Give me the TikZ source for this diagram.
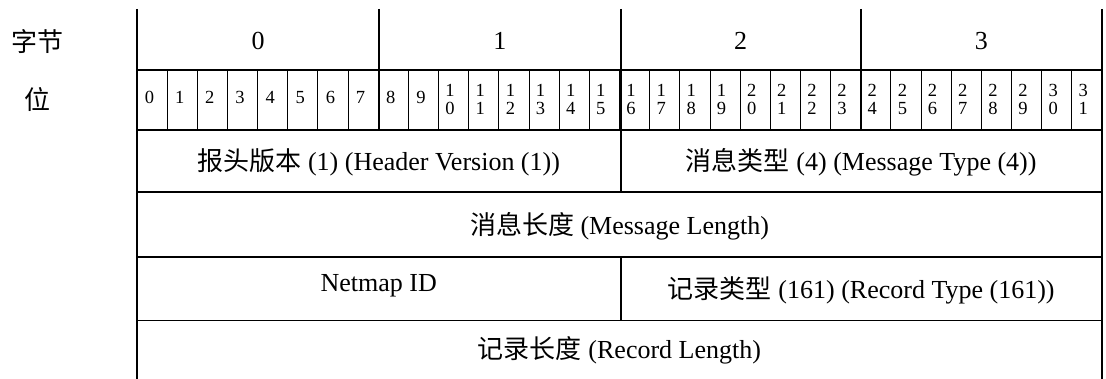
\documentclass[tikz,border=0pt]{standalone}
\usepackage{fontspec}
\setmainfont{Liberation Serif}
\newfontfamily\cjk{Noto Sans CJK SC}
\begin{document}
\begin{tikzpicture}[x=1pt,y=-1pt,
  thickl/.style={line width=2pt},
  thinl/.style={line width=0.9pt},
  lbl/.style={inner sep=0pt,font=\fontsize{26}{30}\selectfont},
  bitd/.style={inner sep=0pt,anchor=base,font=\fontsize{18.5}{19}\selectfont}]
\useasboundingbox (0,0) rectangle (1106,379);
% bit separators
\foreach \i in {1,...,31}{
  \pgfmathsetmacro\bx{137+\i*30.156}
  \draw[thinl] (\bx,70) -- (\bx,130);
}
% outer and byte lines
\draw[thickl] (137,9) -- (137,379);
\draw[thickl] (1102,9) -- (1102,379);
\draw[thickl] (379.25,9) -- (379.25,130);
\draw[thickl] (620.5,9) -- (620.5,192);
\draw[thickl] (860.75,9) -- (860.75,130);
\draw[thickl] (620.5,257) -- (620.5,320);
% horizontal lines
\draw[thickl] (137,70) -- (1102,70);
\draw[thickl] (137,130) -- (1102,130);
\draw[thickl] (137,192) -- (1102,192);
\draw[thickl] (137,257) -- (1102,257);
\draw[thinl] (137,320) -- (1102,320);
% left labels
\node[lbl] (lbyte) at (37,42) {\cjk 字节};
\node[lbl] (lbit) at (37,100) {\cjk 位};
% byte labels
\node[lbl] (by0) at (258.1,41) {0};
\node[lbl] (by1) at (499.9,41) {1};
\node[lbl] (by2) at (740.6,41) {2};
\node[lbl] (by3) at (981.4,41) {3};
% bit labels
\foreach \i in {0,...,9}{
  \pgfmathsetmacro\bx{137+\i*30.156+12.5}
  \node[bitd] (bit\i) at (\bx,104) {\i};
}
\foreach \i in {10,...,31}{
  \pgfmathsetmacro\bx{137+\i*30.156+11.5}
  \pgfmathtruncatemacro\tn{\i/10}
  \pgfmathtruncatemacro\on{\i-10*\tn}
  \node[bitd] (bit\i t) at (\bx,97) {\tn};
  \node[bitd] (bit\i b) at (\bx,115) {\on};
}
% field labels
\node[lbl] (hv) at (378.75,162) {{\cjk 报头版本} (1) (Header Version (1))};
\node[lbl] (mt) at (861.25,162) {{\cjk 消息类型} (4) (Message Type (4))};
\node[lbl] (ml) at (619.5,226) {{\cjk 消息长度} (Message Length)};
\node[lbl] (nid) at (378.75,286) {Netmap ID};
\node[lbl] (rt) at (861.25,290) {{\cjk 记录类型} (161) (Record Type (161))};
\node[lbl] (rl) at (619.5,350) {{\cjk 记录长度} (Record Length)};
\end{tikzpicture}
\end{document}
